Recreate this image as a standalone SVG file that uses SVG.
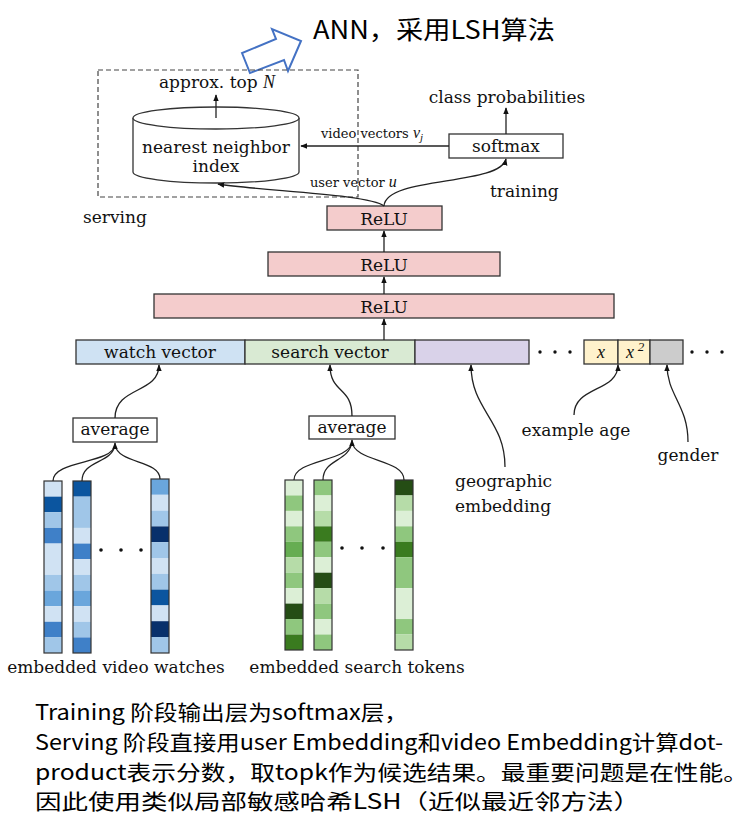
<svg xmlns="http://www.w3.org/2000/svg" width="754" height="818" viewBox="0 0 754 818">
<defs>
<marker id="ah" viewBox="0 0 10 10" refX="9" refY="5" markerWidth="7" markerHeight="7" orient="auto" markerUnits="userSpaceOnUse">
<path d="M0,1 L10,5 L0,9 Z" fill="#111"/>
</marker>
</defs>
<style>
.t{font-family:"DejaVu Serif",serif;font-size:17px;fill:#111}
.s{font-family:"DejaVu Serif",serif;font-size:13px;fill:#111}
.m{font-family:"Liberation Serif",serif;font-style:italic;fill:#111}
.box{stroke:#333;stroke-width:1.3}
.c{fill:none;stroke:#222;stroke-width:1.3}
.a{fill:none;stroke:#222;stroke-width:1.3;marker-end:url(#ah)}
.zh{font-family:"Noto Sans CJK SC",sans-serif;fill:#000}
.colb{fill:none;stroke:#333;stroke-width:1.2}
.b1{fill:#d0e2f3}.b2{fill:#a0c6e8}.b3{fill:#6aa6dc}.b4{fill:#3f80c8}.b5{fill:#0b559f}.b6{fill:#08306b}
.g1{fill:#dcefd6}.g2{fill:#b6dca8}.g3{fill:#8fc77e}.g4{fill:#66ad52}.g5{fill:#3a7b1f}.g6{fill:#254d15}
.dot{fill:#111}
</style>
<rect width="754" height="818" fill="#fff"/>

<g id="title">
<polygon points="242,53 250,73 284,60 288,71 301,41 272,29 276,39" fill="none" stroke="#4472c4" stroke-width="2"/>
<text class="zh" x="313" y="39" font-size="25" textLength="242" lengthAdjust="spacingAndGlyphs">ANN，采用LSH算法</text>
</g>

<g id="serving-box">
<rect x="98" y="70" width="260" height="127" fill="none" stroke="#444" stroke-width="1.2" stroke-dasharray="5,3"/>
<text class="t" x="83" y="223">serving</text>
</g>

<g id="nn-index">
<path d="M133,118 L133,172 A83,11 0 0 0 299,172 L299,118" fill="#fff" stroke="#333" stroke-width="1.3"/>
<ellipse cx="216" cy="118" rx="83" ry="11" fill="#fff" stroke="#333" stroke-width="1.3"/>
<text class="t" x="216" y="153" text-anchor="middle">nearest neighbor</text>
<text class="t" x="216" y="172" text-anchor="middle">index</text>
</g>

<g id="approx-top">
<text class="t" x="217" y="88" text-anchor="middle">approx. top <tspan class="m" font-size="18">N</tspan></text>
</g>

<g id="softmax">
<rect class="box" x="449" y="134" width="114" height="24" fill="#fff"/>
<text class="t" x="506" y="152" text-anchor="middle">softmax</text>
</g>

<g id="class-prob">
<text class="t" x="507" y="103" text-anchor="middle">class probabilities</text>
</g>

<g id="training-label">
<text class="t" x="490" y="197">training</text>
</g>

<g id="relu3">
<rect class="box" x="327" y="206" width="115" height="24" fill="#f4cccc"/>
<text class="t" x="384" y="225" text-anchor="middle">ReLU</text>
</g>
<g id="relu2">
<rect class="box" x="268" y="252" width="232" height="24" fill="#f4cccc"/>
<text class="t" x="384" y="271" text-anchor="middle">ReLU</text>
</g>
<g id="relu1">
<rect class="box" x="154" y="294" width="460" height="24" fill="#f4cccc"/>
<text class="t" x="384" y="313" text-anchor="middle">ReLU</text>
</g>

<g id="input-layer">
<rect class="box" x="76" y="340" width="169" height="24" fill="#cfe2f3"/>
<text class="t" x="160" y="358" text-anchor="middle">watch vector</text>
<rect class="box" x="245" y="340" width="170" height="24" fill="#d9ead3"/>
<text class="t" x="330" y="358" text-anchor="middle">search vector</text>
<rect class="box" x="415" y="340" width="114" height="24" fill="#d9d2e9"/>
<circle class="dot" cx="540" cy="352" r="1.7"/><circle class="dot" cx="555" cy="352" r="1.7"/><circle class="dot" cx="570" cy="352" r="1.7"/>
<rect class="box" x="584" y="340" width="34" height="24" fill="#fff2cc"/>
<text class="m" x="601" y="358" font-size="18" text-anchor="middle">x</text>
<rect class="box" x="618" y="340" width="32" height="24" fill="#fff2cc"/>
<text class="m" x="630" y="358" font-size="18" text-anchor="middle">x</text>
<text class="m" x="641" y="351" font-size="13" font-style="normal" text-anchor="middle">2</text>
<rect class="box" x="650" y="340" width="33" height="24" fill="#cccccc"/>
<circle class="dot" cx="692" cy="352" r="1.7"/><circle class="dot" cx="707" cy="352" r="1.7"/><circle class="dot" cx="722" cy="352" r="1.7"/>
</g>

<g id="avg-watch">
<rect class="box" x="73" y="418" width="84" height="24" fill="#fff"/>
<text class="t" x="115" y="435" text-anchor="middle">average</text>
</g>
<g id="avg-search">
<rect class="box" x="309" y="416" width="86" height="23" fill="#fff"/>
<text class="t" x="352" y="433" text-anchor="middle">average</text>
</g>

<g id="video-embeddings">
<g>
<rect class="b1" x="44" y="481" width="18" height="15.64"/><rect class="b5" x="44" y="496.64" width="18" height="15.64"/><rect class="b2" x="44" y="512.28" width="18" height="15.64"/><rect class="b4" x="44" y="527.92" width="18" height="15.64"/><rect class="b1" x="44" y="543.56" width="18" height="31.28"/><rect class="b2" x="44" y="574.84" width="18" height="15.64"/><rect class="b3" x="44" y="590.48" width="18" height="15.64"/><rect class="b1" x="44" y="606.12" width="18" height="15.64"/><rect class="b4" x="44" y="621.76" width="18" height="15.64"/><rect class="b2" x="44" y="637.4" width="18" height="15.6"/>
<rect class="colb" x="44" y="481" width="18" height="172"/>
</g>
<g>
<rect class="b5" x="73" y="481" width="18" height="15.64"/><rect class="b2" x="73" y="496.64" width="18" height="31.28"/><rect class="b1" x="73" y="527.92" width="18" height="15.64"/><rect class="b4" x="73" y="543.56" width="18" height="15.64"/><rect class="b1" x="73" y="559.2" width="18" height="15.64"/><rect class="b2" x="73" y="574.84" width="18" height="15.64"/><rect class="b3" x="73" y="590.48" width="18" height="15.64"/><rect class="b1" x="73" y="606.12" width="18" height="15.64"/><rect class="b2" x="73" y="621.76" width="18" height="15.64"/><rect class="b4" x="73" y="637.4" width="18" height="15.6"/>
<rect class="colb" x="73" y="481" width="18" height="172"/>
</g>
<circle class="dot" cx="101" cy="550" r="1.8"/><circle class="dot" cx="121" cy="550" r="1.8"/><circle class="dot" cx="141" cy="550" r="1.8"/>
<g>
<rect class="b3" x="151" y="479" width="18" height="15.8"/><rect class="b1" x="151" y="494.8" width="18" height="15.8"/><rect class="b2" x="151" y="510.6" width="18" height="15.8"/><rect class="b6" x="151" y="526.4" width="18" height="15.8"/><rect class="b2" x="151" y="542.2" width="18" height="15.8"/><rect class="b1" x="151" y="558" width="18" height="15.8"/><rect class="b2" x="151" y="573.8" width="18" height="15.8"/><rect class="b5" x="151" y="589.6" width="18" height="15.8"/><rect class="b1" x="151" y="605.4" width="18" height="15.8"/><rect class="b6" x="151" y="621.2" width="18" height="15.8"/><rect class="b2" x="151" y="637" width="18" height="16"/>
<rect class="colb" x="151" y="479" width="18" height="174"/>
</g>
<text class="t" x="116" y="673" text-anchor="middle">embedded video watches</text>
</g>

<g id="search-embeddings">
<g>
<rect class="g1" x="285" y="480" width="18" height="15.45"/><rect class="g3" x="285" y="495.45" width="18" height="15.45"/><rect class="g1" x="285" y="510.9" width="18" height="15.45"/><rect class="g3" x="285" y="526.35" width="18" height="15.45"/><rect class="g4" x="285" y="541.8" width="18" height="15.45"/><rect class="g2" x="285" y="557.25" width="18" height="15.45"/><rect class="g3" x="285" y="572.7" width="18" height="15.45"/><rect class="g1" x="285" y="588.15" width="18" height="15.45"/><rect class="g6" x="285" y="603.6" width="18" height="15.45"/><rect class="g3" x="285" y="619.05" width="18" height="15.45"/><rect class="g5" x="285" y="634.5" width="18" height="15.5"/>
<rect class="colb" x="285" y="480" width="18" height="170"/>
</g>
<g>
<rect class="g3" x="314" y="480" width="18" height="15.45"/><rect class="g1" x="314" y="495.45" width="18" height="15.45"/><rect class="g2" x="314" y="510.9" width="18" height="15.45"/><rect class="g5" x="314" y="526.35" width="18" height="15.45"/><rect class="g3" x="314" y="541.8" width="18" height="15.45"/><rect class="g1" x="314" y="557.25" width="18" height="15.45"/><rect class="g6" x="314" y="572.7" width="18" height="15.45"/><rect class="g2" x="314" y="588.15" width="18" height="15.45"/><rect class="g3" x="314" y="603.6" width="18" height="15.45"/><rect class="g1" x="314" y="619.05" width="18" height="15.45"/><rect class="g3" x="314" y="634.5" width="18" height="15.5"/>
<rect class="colb" x="314" y="480" width="18" height="170"/>
</g>
<circle class="dot" cx="342" cy="548" r="1.8"/><circle class="dot" cx="362" cy="548" r="1.8"/><circle class="dot" cx="383" cy="548" r="1.8"/>
<g>
<rect class="g6" x="395" y="480" width="18" height="15.45"/><rect class="g2" x="395" y="495.45" width="18" height="15.45"/><rect class="g1" x="395" y="510.9" width="18" height="15.45"/><rect class="g3" x="395" y="526.35" width="18" height="15.45"/><rect class="g5" x="395" y="541.8" width="18" height="15.45"/><rect class="g3" x="395" y="557.25" width="18" height="30.9"/><rect class="g1" x="395" y="588.15" width="18" height="30.9"/><rect class="g3" x="395" y="619.05" width="18" height="15.45"/><rect class="g2" x="395" y="634.5" width="18" height="15.5"/>
<rect class="colb" x="395" y="480" width="18" height="170"/>
</g>
<text class="t" x="357" y="673" text-anchor="middle">embedded search tokens</text>
</g>

<g id="labels">
<text class="t" x="576" y="436" text-anchor="middle">example age</text>
<text class="t" x="688" y="461" text-anchor="middle">gender</text>
<text class="t" x="455" y="487">geographic</text>
<text class="t" x="455" y="512">embedding</text>
</g>

<g id="connectors">
<path class="a" d="M216,118 L216,95"/>
<path class="a" d="M506,134 L506,108"/>
<path class="a" d="M449,146 L301,146"/>
<text class="s" x="321" y="138">video vectors <tspan class="m" font-size="16">v</tspan><tspan class="m" font-size="11" dy="3">j</tspan></text>
<path class="a" d="M384,206 C386,176 500,186 506,159"/>
<path class="a" d="M384,206 C370,194 262,191 218,184"/>
<text class="s" x="310" y="187">user vector <tspan class="m" font-size="16">u</tspan></text>
<path class="a" d="M384,252 L384,231"/>
<path class="a" d="M384,294 L384,277"/>
<path class="a" d="M384,340 L384,319"/>
<path class="a" d="M115,418 C115,386 159,394 159,365"/>
<path class="a" d="M352,416 C352,386 330,394 330,365"/>
<path class="a" d="M505,467 C505,420 471,410 471,365"/>
<path class="a" d="M574,415 C574,386 618,392 618,365"/>
<path class="a" d="M688,442 C688,405 667,395 667,365"/>
<path class="c" d="M53,481 C53,460 112,464 115,445"/>
<path class="c" d="M82,481 C82,460 112,464 115,445"/>
<path class="c" d="M160,479 C160,460 118,464 115,445"/>
<path class="a" d="M115,447 L115,443"/>
<path class="c" d="M294,480 C294,459 349,462 352,442"/>
<path class="c" d="M323,480 C323,459 349,462 352,442"/>
<path class="c" d="M404,480 C404,459 355,462 352,442"/>
<path class="a" d="M352,444 L352,440"/>
</g>

<g id="caption">
<text class="zh" x="35" y="720" font-size="21" textLength="373" lengthAdjust="spacingAndGlyphs">Training 阶段输出层为softmax层，</text>
<text class="zh" x="35" y="750" font-size="21" textLength="688" lengthAdjust="spacingAndGlyphs">Serving 阶段直接用user Embedding和video Embedding计算dot-</text>
<text class="zh" x="35" y="780" font-size="21" textLength="713" lengthAdjust="spacingAndGlyphs">product表示分数，取topk作为候选结果。最重要问题是在性能。</text>
<text class="zh" x="35" y="809" font-size="21" textLength="605" lengthAdjust="spacingAndGlyphs">因此使用类似局部敏感哈希LSH（近似最近邻方法）</text>
</g>
</svg>
